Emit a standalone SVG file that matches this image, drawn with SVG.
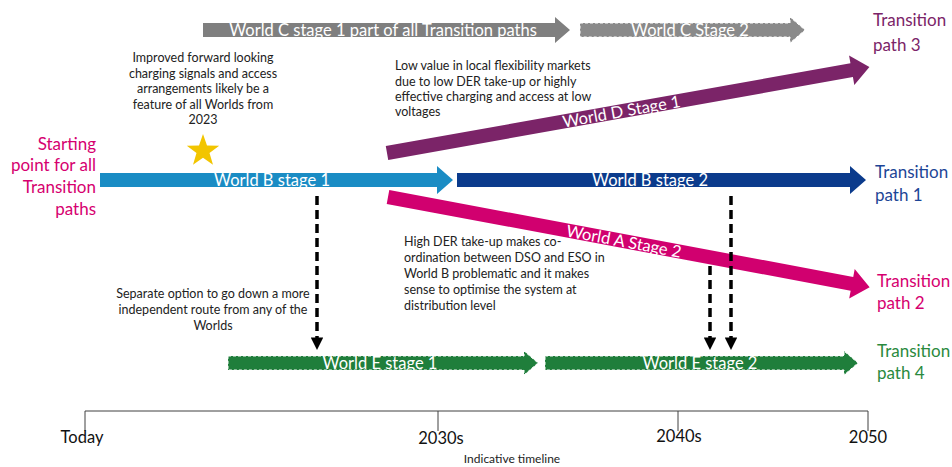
<svg xmlns="http://www.w3.org/2000/svg" width="952" height="467" viewBox="0 0 952 467">
<defs>
<marker id="ah" viewBox="0 0 10 10" refX="10" refY="5" markerWidth="3.6" markerHeight="3.6" markerUnits="strokeWidth" orient="auto">
<path d="M0,0 L10,5 L0,10 Z" fill="#000"/>
</marker>
<style>
text{font-family:Lato,"Open Sans","Liberation Sans",sans-serif}
.lbl{fill:#fff;font-size:16.5px;text-anchor:middle}
.note{fill:#222;font-size:12.5px}
.path{font-size:17px}
.tl{fill:#111;font-size:16.5px;text-anchor:middle}
.dash{fill:none;stroke:#000;stroke-width:3.5;stroke-dasharray:9 5;marker-end:url(#ah)}
.dout{stroke:#fff;stroke-width:1;stroke-dasharray:3 2}
</style>
</defs>
<rect width="952" height="467" fill="#fff"/>

<g id="worldC1">
<polygon points="203,23 555,23 555,17 570,30 555,43 555,37 203,37" fill="#7f7f7f"/>
<text class="lbl" x="383" y="36">World C stage 1 part of all Transition paths</text>
</g>
<g id="worldC2">
<polygon class="dout" points="580,23 790,23 790,17 805,30 790,43 790,37 580,37" fill="#8a8a8a"/>
<text class="lbl" x="690" y="36">World C Stage 2</text>
</g>

<g id="note-improved" class="note" text-anchor="middle">
<text x="203" y="62">Improved forward looking</text>
<text x="203" y="78">charging signals and access</text>
<text x="203" y="93">arrangements likely be a</text>
<text x="203" y="109">feature of all Worlds from</text>
<text x="203" y="124">2023</text>
</g>
<g id="star">
<polygon points="203,134 207,145.5 219.2,145.7 209.5,153.1 213,164.8 203,157.8 193,164.8 196.5,153.1 186.8,145.7 199,145.5" fill="#f2c500"/>
</g>

<g id="start" class="path" fill="#d6006f" text-anchor="end">
<text x="96" y="150">Starting</text>
<text x="96" y="171">point for all</text>
<text x="96" y="193">Transition</text>
<text x="96" y="215">paths</text>
</g>

<g id="note-low" class="note">
<text x="395" y="70">Low value in local flexibility markets</text>
<text x="395" y="86">due to low DER take-up or highly</text>
<text x="395" y="101">effective charging and access at low</text>
<text x="395" y="116">voltages</text>
</g>

<g id="worldD1" transform="translate(387,153) rotate(-10.1)">
<polygon points="0,-7 472,-7 472,-15 490,0 472,15 472,7 0,7" fill="#7b2468"/>
<text class="lbl" x="238" y="6">World D Stage 1</text>
</g>
<g id="tp3" class="path" fill="#7b2468">
<text x="873" y="26">Transition</text>
<text x="873" y="51">path 3</text>
</g>

<g id="worldB1">
<polygon points="100,173 437,173 437,166 453,180 437,194 437,187 100,187" fill="#1a8cc4"/>
<text class="lbl" x="272" y="186">World B stage 1</text>
</g>
<g id="worldB2">
<polygon points="457,173 850,173 850,166 866,180 850,194 850,187 457,187" fill="#0b3b8c"/>
<text class="lbl" x="650" y="186">World B stage 2</text>
</g>
<g id="tp1" class="path" fill="#1d4596">
<text x="875" y="178">Transition</text>
<text x="875" y="201">path 1</text>
</g>

<g id="worldA2" transform="translate(388,197) rotate(10.6)">
<polygon points="0,-7 472,-7 472,-15 490,0 472,15 472,7 0,7" fill="#d1006f"/>
<text class="lbl" x="240" y="6">World A Stage 2</text>
</g>
<g id="tp2" class="path" fill="#d6006f">
<text x="877" y="287">Transition</text>
<text x="877" y="309">path 2</text>
</g>

<g id="note-high" class="note">
<text x="404" y="246">High DER take-up makes co-</text>
<text x="404" y="262">ordination between DSO and ESO in</text>
<text x="404" y="278">World B problematic and it makes</text>
<text x="404" y="294">sense to optimise the system at</text>
<text x="404" y="310">distribution level</text>
</g>

<g id="note-separate" class="note" text-anchor="middle">
<text x="213" y="298">Separate option to go down a more</text>
<text x="213" y="314">independent route from any of the</text>
<text x="213" y="330">Worlds</text>
</g>

<g id="worldE1">
<polygon class="dout" points="228,356 524,356 524,351 538,363 524,375 524,370 228,370" fill="#1f7e3b"/>
<text class="lbl" x="380" y="369">World E stage 1</text>
</g>
<g id="worldE2">
<polygon class="dout" points="545,356 844,356 844,351 858,363 844,375 844,370 545,370" fill="#1f7e3b"/>
<text class="lbl" x="700" y="369">World E stage 2</text>
</g>
<g id="tp4" class="path" fill="#2a8a3e">
<text x="877" y="357">Transition</text>
<text x="877" y="379">path 4</text>
</g>

<g id="connectors">
<line class="dash" x1="317" y1="196" x2="317" y2="350"/>
<line class="dash" x1="710" y1="266" x2="710" y2="350"/>
<line class="dash" x1="731" y1="196" x2="731" y2="350"/>
</g>

<g id="timeline">
<path d="M85,411 H868 M85,411 V431 M438,411 V431 M678,411 V431 M868,411 V431" stroke="#404040" stroke-width="1" fill="none"/>
<text class="tl" x="82" y="443">Today</text>
<text class="tl" x="441" y="444">2030s</text>
<text class="tl" x="679" y="442">2040s</text>
<text class="tl" x="868" y="443">2050</text>
<text x="512" y="463" fill="#222" font-size="12" text-anchor="middle">Indicative timeline</text>
</g>
</svg>
